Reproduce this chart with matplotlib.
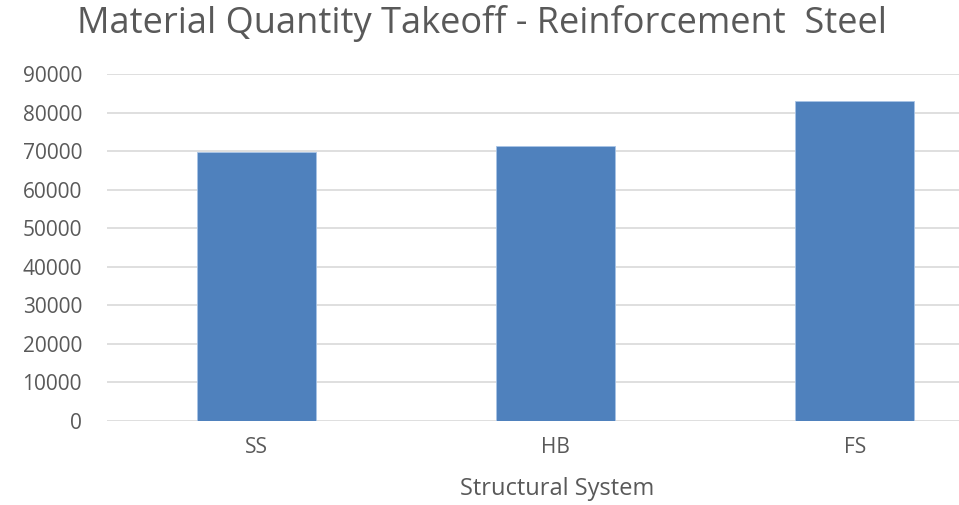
import matplotlib
matplotlib.use("Agg")
import matplotlib.pyplot as plt

categories = ["SS", "HB", "FS"]
values = [69800, 71400, 83000]
yticks = [0, 10000, 20000, 30000, 40000, 50000, 60000, 70000, 80000, 90000]

grey = "#595959"
plt.rcParams["font.family"] = ["Open Sans", "DejaVu Sans"]

fig = plt.figure(figsize=(9.59, 5.05), dpi=100)
ax = fig.add_axes([107 / 959, 84.3 / 505, (959 - 107) / 959, 346.4 / 505])

x = range(len(categories))
ax.bar(x, values, width=0.4, color="#4f81bd", edgecolor="#a9c4e6", linewidth=0.6, zorder=3)

ax.set_xlim(-0.5, 2.349)
ax.set_ylim(0, 90000)
ax.set_yticks(yticks)
ax.set_yticklabels([str(t) for t in yticks], fontsize=15, color=grey)
ax.set_xticks(list(x))
ax.set_xticklabels(categories, fontsize=15, color=grey)
ax.tick_params(axis="y", length=0, pad=18)
ax.tick_params(axis="x", length=0, pad=12)
ax.grid(axis="y", color="#d9d9d9", linewidth=1.2, zorder=0)
for s in ax.spines.values():
    s.set_visible(False)

fig.text(557 / 959, 1 - 489 / 505, "Structural System",
         ha="center", va="center", fontsize=17, color=grey)
fig.text(482 / 959, 1 - 23 / 505, "Material Quantity Takeoff - Reinforcement  Steel",
         ha="center", va="center", fontsize=26, color=grey)

fig.savefig("out.png", dpi=100)
